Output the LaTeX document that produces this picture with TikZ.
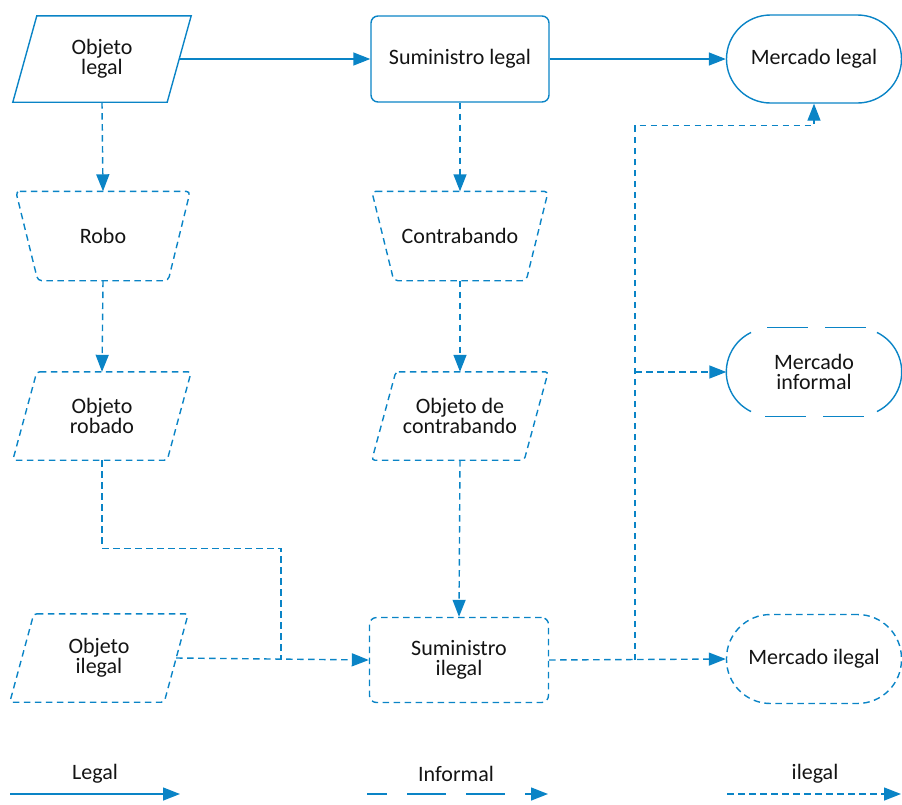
\documentclass[tikz,border=0pt]{standalone}
\usepackage{fontspec}
\setmainfont{Carlito}
\usetikzlibrary{arrows.meta,calc}
\definecolor{flowblue}{RGB}{10,132,198}
\definecolor{txt}{RGB}{20,20,20}
\tikzset{
  base/.style={font=\fontsize{22}{20}\selectfont, text=txt, align=center, rectangle, inner sep=0pt},
  legalline/.style={draw=flowblue, line width=1.4pt},
  infline/.style={draw=flowblue, line width=1.4pt, dash pattern=on 39pt off 20pt},
  ilegline/.style={draw=flowblue, line width=1.4pt, dash pattern=on 6.5pt off 4.5pt},
  tip/.style={-{Triangle[length=17pt,width=13pt]}, color=flowblue},
  legtext/.style={font=\fontsize{22}{20}\selectfont, text=txt}
}
% parallelogram outline: node, style, half slant
\newcommand\ParaOutline[3]{\draw[#2] ($(#1.north west)+(#3,0)$) -- ($(#1.north east)+(#3,0)$) -- ($(#1.south east)-(#3,0)$) -- ($(#1.south west)-(#3,0)$) -- cycle;}
% manual operation outline (wide top)
\newcommand\ManOutline[3]{\draw[#2] ($(#1.north west)-(#3,0)$) -- ($(#1.north east)+(#3,0)$) -- ($(#1.south east)-(#3,0)$) -- ($(#1.south west)+(#3,0)$) -- cycle;}
\begin{document}
\begin{tikzpicture}[x=1pt,y=-1pt]
\useasboundingbox (0,0) rectangle (902,804);
% nodes
\node[base, minimum width=154pt, minimum height=86pt] (ol) at (102,59) {Objeto\\legal};
\ParaOutline{ol}{legalline}{12pt}
\node[base, minimum width=178pt, minimum height=86pt, legalline, rounded corners=7pt] (sl) at (460,59) {Suministro legal};
\node[base, minimum width=175pt, minimum height=88pt, legalline, rounded corners=44pt] (ml) at (814,59) {Mercado legal};
\node[base, minimum width=152pt, minimum height=89pt] (robo) at (103,236) {Robo};
\ManOutline{robo}{ilegline, rounded corners=4pt}{11pt}
\node[base, minimum width=154pt, minimum height=89pt] (contra) at (460,236) {Contrabando};
\ManOutline{contra}{ilegline, rounded corners=4pt}{11pt}
\node[base, minimum width=154pt, minimum height=88pt] (orob) at (102,416) {Objeto\\robado};
\ParaOutline{orob}{ilegline, rounded corners=3pt}{12pt}
\node[base, minimum width=152pt, minimum height=88pt] (ocon) at (460,416) {Objeto de\\contrabando};
\ParaOutline{ocon}{ilegline, rounded corners=3pt}{12pt}
\node[base, minimum width=175pt, minimum height=89pt] (minf) at (814,372) {Mercado\\informal};
% informal stadium, drawn piecewise
\draw[legalline] ($(minf.west)+(44,0)$) ++(116:44pt) arc[start angle=116, end angle=244, radius=44pt];
\draw[legalline] ($(minf.east)-(44,0)$) ++(-64:44pt) arc[start angle=-64, end angle=64, radius=44pt];
\draw[legalline] ($(minf.north)+(-47,0)$) -- ($(minf.north)+(-6,0)$);
\draw[legalline] ($(minf.north)+(11,0)$) -- ($(minf.north)+(52,0)$);
\draw[legalline] ($(minf.south)+(-49,0)$) -- ($(minf.south)+(-8,0)$);
\draw[legalline] ($(minf.south)+(9,0)$) -- ($(minf.south)+(50,0)$);
\node[base, minimum width=154pt, minimum height=88pt] (oil) at (99,658) {Objeto\\ilegal};
\ParaOutline{oil}{ilegline, rounded corners=3pt}{12pt}
\node[base, minimum width=179pt, minimum height=85pt, ilegline, rounded corners=7pt] (sil) at (459,660) {Suministro\\ilegal};
\node[base, minimum width=175pt, minimum height=89pt, ilegline, rounded corners=44pt] (mil) at (814,659) {Mercado ilegal};
% junctions
\coordinate (j1) at (281,660);
\coordinate (j2) at (635,660);
\coordinate (j3) at (j2 |- minf.west);
% legal connectors
\draw[legalline, tip] (ol.east) -- (sl.west);
\draw[legalline, tip] (sl.east) -- (ml.west);
% illegal connectors
\draw[ilegline, tip] (ol.south) -- (robo.north);
\draw[ilegline, tip] (robo.south) -- (orob.north);
\draw[ilegline] (orob.south) -- ++(0,88) -| (j1);
\draw[ilegline, tip] (oil.east) -- (sil.west);
\draw[ilegline, tip] (sl.south) -- (contra.north);
\draw[ilegline, tip] (contra.south) -- (ocon.north);
\draw[ilegline, tip] (ocon.south) -- (sil.north);
\draw[ilegline, tip] (sil.east) -- (mil.west);
\draw[ilegline, tip] (j2) |- ($(ml.south)+(0,22)$) -- (ml.south);
\draw[ilegline, tip] (j3) -- (minf.west);
% legend
\node[legtext] (lg1) at (95,774) {Legal};
\node[legtext] (lg2) at (456,774) {Informal};
\node[legtext] (lg3) at (815,774) {ilegal};
\coordinate (a1) at (10,794); \coordinate (b1) at (180,794);
\coordinate (a2) at (367,794); \coordinate (b2) at (548,794);
\coordinate (a3) at (727,794); \coordinate (b3) at (901,794);
\draw[legalline, tip] (a1) -- (b1);
\draw[infline, dash phase=19pt, tip] (a2) -- (b2);
\draw[ilegline, tip] (a3) -- (b3);
\end{tikzpicture}
\end{document}
